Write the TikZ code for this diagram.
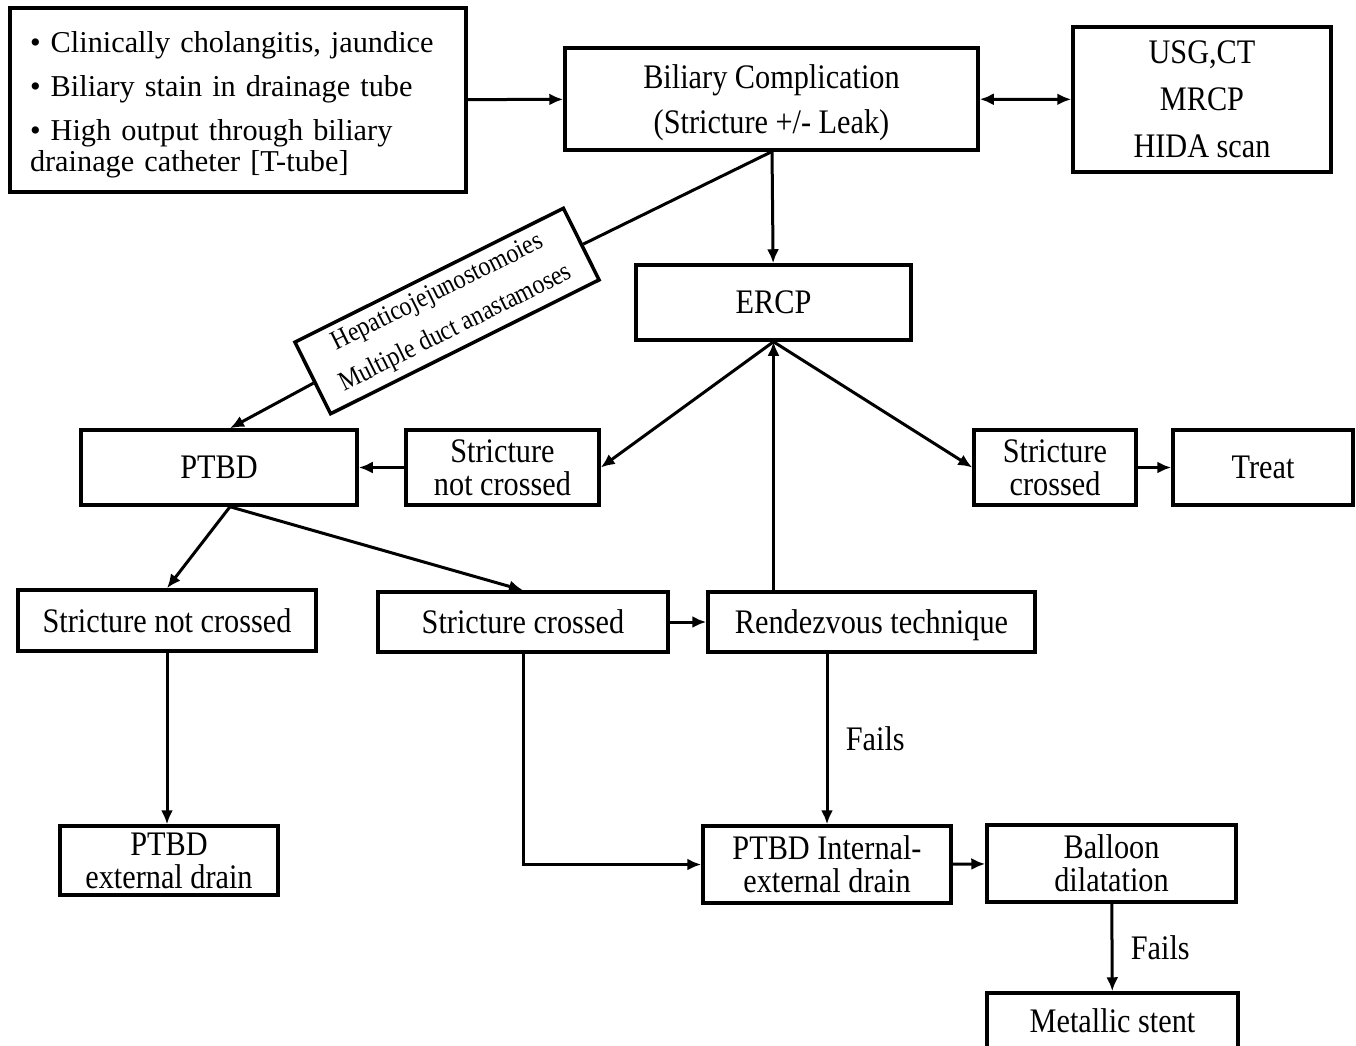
\documentclass[tikz,border=0pt]{standalone}
\usepackage{fontspec}
\setmainfont{Liberation Serif}
\newfontfamily\narrowfont[FakeStretch=0.88]{Liberation Serif}
\usetikzlibrary{arrows.meta,positioning}

\begin{document}
\begin{tikzpicture}[x=1pt, y=-1pt, >={Latex[length=14pt, width=12pt]},
        block/.style={draw, line width=3.5pt, align=center, inner sep=0pt,
            font=\narrowfont\fontsize{34.4}{33}\selectfont},
        link/.style={line width=3pt, ->},
        note/.style={right, xshift=14pt, font=\narrowfont\fontsize{34.4}{33}\selectfont}]
        \useasboundingbox (0,0) rectangle (1356,1045);

        \node[block, minimum width=456pt, minimum height=184pt, text width=416pt, align=left,
            font=\rmfamily\fontsize{30.3}{31}\selectfont] at (238, 100)(signs){%
            \rule{0pt}{31pt}• Clinically cholangitis, jaundice\\[13pt]
            • Biliary stain in drainage tube\\[13pt]
            • High output through biliary\\
            drainage catheter [T-tube]};
        \node[block, minimum width=413pt, minimum height=102pt] at (771.5, 99)(bc){\rule{0pt}{31.5pt}Biliary Complication\\[12pt](Stricture +/- Leak)};
        \node[block, minimum width=258pt, minimum height=145pt] at (1202, 99.5)(usg){USG,CT\\[14pt]MRCP\\[14pt]HIDA scan};
        \node[block, minimum width=275pt, minimum height=75pt] at (773.5, 302.5)(ercp){ERCP};
        \node[block, rotate=26.5, minimum width=300pt, minimum height=80pt,
            font=\narrowfont\fontsize{27.3}{30}\selectfont] at (447, 311)(hep){Hepaticojejunostomoies\\[10pt]Multiple duct anastamoses};
        \node[block, minimum width=276pt, minimum height=75pt] at (219, 467.5)(ptbd){PTBD};
        \node[block, minimum width=193pt, minimum height=75pt] at (502.5, 467.5)(snc1){Stricture\\not crossed};
        \node[block, minimum width=162pt, minimum height=75pt] at (1055, 467.5)(sc1){Stricture\\crossed};
        \node[block, minimum width=180pt, minimum height=75pt] at (1263, 467.5)(treat){Treat};
        \node[block, minimum width=298pt, minimum height=61pt] at (167, 620.5)(snc2){Stricture not crossed};
        \node[block, minimum width=290pt, minimum height=60pt] at (523, 622)(sc2){Stricture crossed};
        \node[block, minimum width=327pt, minimum height=60pt] at (871.5, 622)(rv){\rule{0pt}{31pt}Rendezvous technique};
        \node[block, minimum width=218pt, minimum height=69pt] at (169, 860.5)(ext){PTBD\\external drain};
        \node[block, minimum width=248pt, minimum height=77pt] at (827, 864.5)(ie){PTBD Internal-\\external drain};
        \node[block, minimum width=249pt, minimum height=77pt] at (1111.5, 863.5)(bal){Balloon\\dilatation};
        \node[block, minimum width=251pt, minimum height=56pt] at (1112.5, 1021)(stent){Metallic stent};

        \path[link]
            (signs)edge(bc)
            (bc)edge[<->](usg)
            (bc)edge(ercp)
            (ercp.south)edge(snc1.east)
            (ercp.south)edge(sc1.west)
            (snc1)edge(ptbd)
            (sc1)edge(treat)
            ([xshift=11pt]ptbd.south)edge(snc2.north)
            ([xshift=11pt]ptbd.south)edge(sc2.north)
            (sc2)edge(rv)
            (snc2.south)edge(snc2.south |- ext.north)
            (ie)edge(bal)
            (bal)edge node[note]{Fails}(stent)
            ;
        \draw[line width=3pt] (bc.south) -- (hep);
        \draw[link] (hep) -- ([xshift=11pt]ptbd.north);
        \draw[link] (ercp.south |- rv.north) -- (ercp.south);
        \draw[link] (ie.north |- rv.south) -- node[note]{Fails} (ie.north);
        \draw[link] (sc2.south) |- (ie.west);
    \end{tikzpicture}
\end{document}
